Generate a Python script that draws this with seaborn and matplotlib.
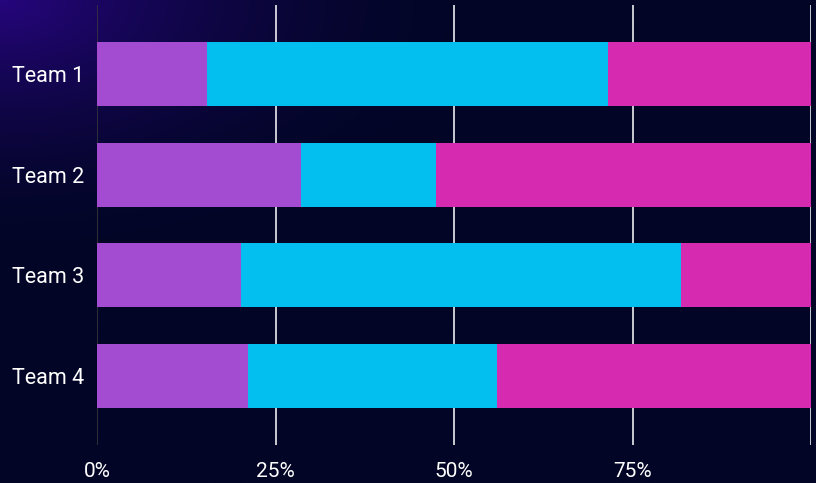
import numpy as np
import pandas as pd
import matplotlib.pyplot as plt
import seaborn as sns

# chart data (percent of each team)
teams = ["Team 1", "Team 2", "Team 3", "Team 4"]
part_a = [15.4, 28.6, 20.2, 21.1]
part_b = [56.2, 18.9, 61.6, 34.9]
part_c = [28.4, 52.5, 18.2, 44.0]
tick_values = [0, 25, 50, 75, 100]
tick_labels = ["0%", "25%", "50%", "75%", ""]

colors = ["#a34bd1", "#03bfef", "#d62ab0"]

df = pd.DataFrame({"team": teams, "a": part_a, "b": part_b, "c": part_c})
df["ab"] = df["a"] + df["b"]
df["abc"] = df["ab"] + df["c"]

sns.set_style("dark")
plt.rcParams["font.family"] = ["Roboto", "DejaVu Sans"]

fig = plt.figure(figsize=(8.16, 4.83), dpi=100)

# background gradient, purple glow in the top-left corner
bg = fig.add_axes([0, 0, 1, 1], zorder=-10)
yy, xx = np.mgrid[0:1:300j, 0:1:500j]
dist = np.sqrt((xx * 1.0) ** 2 + (yy * 1.1) ** 2)
glow = np.clip(1 - dist / 0.6, 0, 1) ** 1.8
base = np.array([2, 5, 38]) / 255
purple = np.array([38, 6, 125]) / 255
img = base[None, None, :] + glow[:, :, None] * (purple - base)[None, None, :]
bg.imshow(img, aspect="auto", extent=[0, 1, 0, 1], origin="upper")
bg.axis("off")

ax = fig.add_axes([97 / 816, 38 / 483, 714 / 816, 440 / 483])
ax.set_facecolor("none")

for col, c in zip(["abc", "ab", "a"], [colors[2], colors[1], colors[0]]):
    sns.barplot(data=df, x=col, y="team", color=c, width=0.634,
                saturation=1, linewidth=0, ax=ax, zorder=3)

ax.set_xlim(0, 100)
ax.set_ylim(3.68, -0.68)
ax.set_xticks(tick_values)
ax.set_xticklabels(tick_labels)
ax.set_xlabel("")
ax.set_ylabel("")
ax.grid(False)
for v in tick_values:
    ax.axvline(v, color="#3a3a3a" if v == 0 else "white", lw=1.1, zorder=1)

ax.tick_params(axis="x", length=0, pad=12, labelsize=15, colors="white")
ax.tick_params(axis="y", length=0, pad=9, labelsize=15.5, colors="white")
for s in ax.spines.values():
    s.set_visible(False)

fig.savefig("out.png", dpi=100)
